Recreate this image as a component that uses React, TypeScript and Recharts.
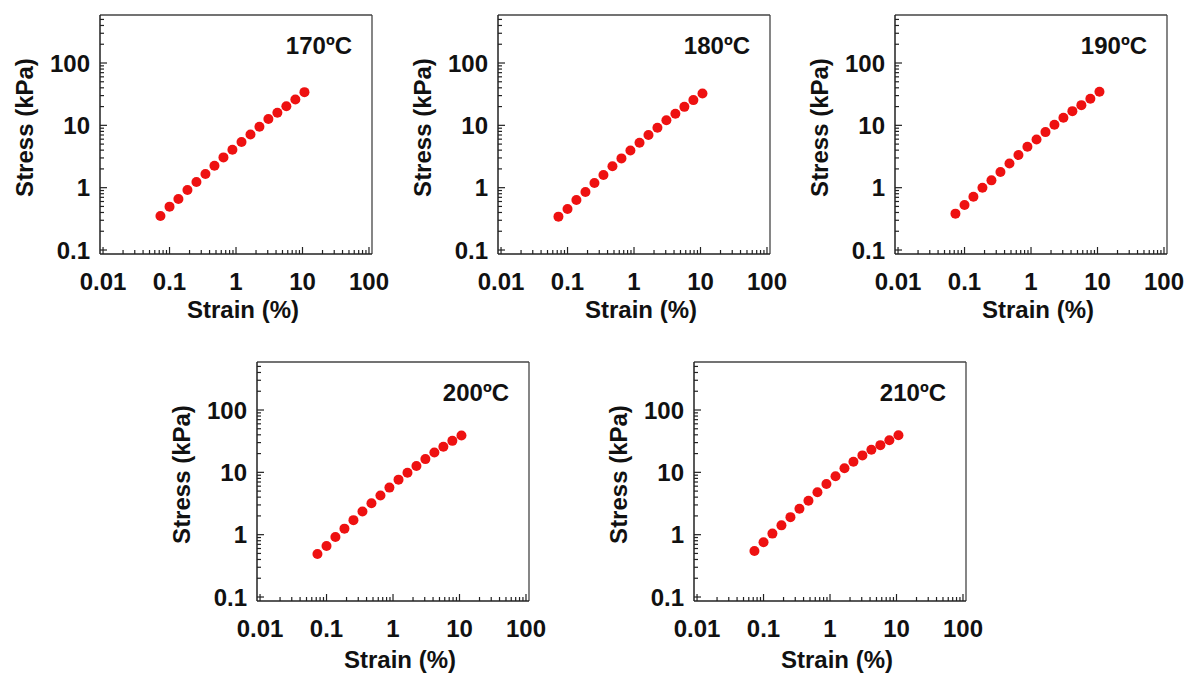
import React from 'react';
import { ScatterChart, Scatter, XAxis, YAxis, Label, ReferenceLine } from 'recharts';

// strain (%) is the same sweep in every panel
const strain = [0.073, 0.1, 0.136, 0.186, 0.254, 0.347, 0.474, 0.647, 0.883, 1.21, 1.65, 2.25, 3.07, 4.19, 5.72, 7.81, 10.7];

// stress (kPa)
const stress170 = [0.352, 0.496, 0.658, 0.918, 1.23, 1.66, 2.25, 3.06, 4.06, 5.39, 7.15, 9.49, 12.6, 15.9, 20.3, 26.0, 34.1];
const stress180 = [0.343, 0.455, 0.634, 0.852, 1.19, 1.6, 2.2, 2.95, 3.96, 5.26, 6.98, 9.14, 12.1, 15.3, 19.8, 25.4, 32.4];
const stress190 = [0.383, 0.528, 0.717, 1.0, 1.31, 1.78, 2.45, 3.34, 4.54, 5.94, 7.79, 10.2, 13.2, 16.9, 21.1, 26.7, 34.5];
const stress200 = [0.491, 0.659, 0.918, 1.25, 1.71, 2.36, 3.2, 4.24, 5.69, 7.64, 9.88, 12.6, 16.3, 20.8, 25.7, 32.0, 38.9];
const stress210 = [0.548, 0.755, 1.04, 1.41, 1.91, 2.6, 3.49, 4.8, 6.51, 8.63, 11.6, 14.8, 18.7, 23.0, 27.3, 32.8, 39.4];

const temperatures = ['170ºC', '180ºC', '190ºC', '200ºC', '210ºC'];
const stressSeries = [stress170, stress180, stress190, stress200, stress210];

const xTicks = [
  0.01, 0.02, 0.03, 0.04, 0.05, 0.06, 0.07, 0.08, 0.09,
  0.1, 0.2, 0.3, 0.4, 0.5, 0.6, 0.7, 0.8, 0.9,
  1, 2, 3, 4, 5, 6, 7, 8, 9,
  10, 20, 30, 40, 50, 60, 70, 80, 90,
  100,
];
const yTicks = [
  0.1, 0.2, 0.3, 0.4, 0.5, 0.6, 0.7, 0.8, 0.9,
  1, 2, 3, 4, 5, 6, 7, 8, 9,
  10, 20, 30, 40, 50, 60, 70, 80, 90,
  100, 200, 300, 400, 500,
];

const xDomain = [0.009, 111];
const yDomain = [0.0863, 589];

// where each chart sits on the page
const panelLayout = [
  { left: 0, top: 0, titleDy: 55 },
  { left: 398, top: 0, titleDy: 55 },
  { left: 795, top: 0, titleDy: 55 },
  { left: 157, top: 347, titleDy: 58 },
  { left: 594, top: 347, titleDy: 58 },
];

const FONT = "'Liberation Sans', Arial, Helvetica, sans-serif";
const AXIS = '#222';
const DOT = '#ee1111';
const W = 390;
const H = 330;

const isMajor = (v: number) => Math.abs(Math.log10(v) - Math.round(Math.log10(v))) < 1e-6;

const XTick = (props: any) => {
  const { x, y, payload } = props;
  const major = isMajor(payload.value);
  return (
    <g>
      <line x1={x} x2={x} y1={y} y2={y - (major ? 7 : 4)} stroke={AXIS} strokeWidth={1.2} />
      {major && (
        <text x={x} y={y + 27} textAnchor="middle" dominantBaseline="central"
          fontFamily={FONT} fontWeight="bold" fontSize={24} fill="#111">
          {String(payload.value)}
        </text>
      )}
    </g>
  );
};

const YTick = (props: any) => {
  const { x, y, payload } = props;
  const major = isMajor(payload.value);
  return (
    <g>
      <line x1={x} x2={x + (major ? 7 : 4)} y1={y} y2={y} stroke={AXIS} strokeWidth={1.2} />
      {major && (
        <text x={x - 10} y={y} textAnchor="end" dominantBaseline="central"
          fontFamily={FONT} fontWeight="bold" fontSize={24} fill="#111">
          {String(payload.value)}
        </text>
      )}
    </g>
  );
};

const Dot = (props: any) => <circle cx={props.cx} cy={props.cy} r={5} fill={DOT} />;

function Panel({ idx }: { idx: number }) {
  const layout = panelLayout[idx];
  const data = strain.map((s, i) => ({ strain: s, stress: stressSeries[idx][i] }));

  return (
    <div style={{ position: 'absolute', left: layout.left, top: layout.top, width: W, height: H }}>
      <ScatterChart width={W} height={H} margin={{ top: 15, right: 18, bottom: 46, left: 40 }}>
        <XAxis
          dataKey="strain"
          type="number"
          scale="log"
          domain={xDomain}
          allowDataOverflow
          ticks={xTicks}
          interval={0}
          tick={<XTick />}
          tickSize={0}
          tickMargin={0}
          tickLine={false}
          axisLine={{ stroke: AXIS, strokeWidth: 1.5 }}
          height={30}
        >
          <Label
            content={(p: any) => {
              const vb = p.viewBox;
              return (
                <text x={vb.x + vb.width / 2 + 7} y={vb.y + layout.titleDy} textAnchor="middle"
                  dominantBaseline="central" fontFamily={FONT} fontWeight="bold" fontSize={24} fill="#111">
                  Strain (%)
                </text>
              );
            }}
          />
        </XAxis>
        <YAxis
          dataKey="stress"
          type="number"
          scale="log"
          domain={yDomain}
          allowDataOverflow
          ticks={yTicks}
          interval={0}
          tick={<YTick />}
          tickSize={0}
          tickMargin={0}
          tickLine={false}
          axisLine={{ stroke: AXIS, strokeWidth: 1.5 }}
          width={60}
        >
          <Label
            content={(p: any) => {
              const vb = p.viewBox;
              const tx = vb.x + vb.width - 76;
              const ty = vb.y + vb.height / 2 - 7;
              return (
                <text x={tx} y={ty} transform={`rotate(-90, ${tx}, ${ty})`} textAnchor="middle"
                  dominantBaseline="central" fontFamily={FONT} fontWeight="bold" fontSize={24} fill="#111">
                  Stress (kPa)
                </text>
              );
            }}
          />
        </YAxis>
        {/* top and right edges of the frame */}
        <ReferenceLine x={xDomain[1]} stroke="#444" strokeWidth={1.3} ifOverflow="visible" />
        <ReferenceLine y={yDomain[1]} stroke="#444" strokeWidth={1.3} ifOverflow="visible" />
        <Scatter data={data} shape={<Dot />} isAnimationActive={false} />
      </ScatterChart>
      <div
        style={{
          position: 'absolute',
          right: 38,
          top: 33,
          height: 26,
          lineHeight: '26px',
          fontFamily: FONT,
          fontWeight: 'bold',
          fontSize: 24,
          color: '#111',
        }}
      >
        {temperatures[idx]}
      </div>
    </div>
  );
}

export default function App() {
  return (
    <div style={{ position: 'relative', width: 1187, height: 675, overflow: 'hidden', background: '#fff' }}>
      <style>{'body { margin: 0; }'}</style>
      {temperatures.map((t, i) => (
        <Panel key={t} idx={i} />
      ))}
    </div>
  );
}
